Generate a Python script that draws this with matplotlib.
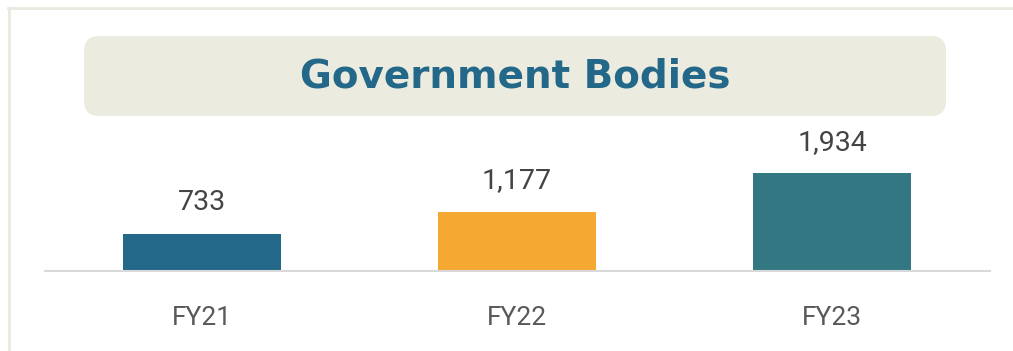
import matplotlib
matplotlib.use("Agg")
import matplotlib.pyplot as plt
from matplotlib.patches import FancyBboxPatch
from matplotlib.lines import Line2D

# Data
categories = ["FY21", "FY22", "FY23"]
values = [733, 1177, 1934]
bar_colors = ["#236789", "#F5A832", "#327782"]
title = "Government Bodies"

W, H = 1013, 351
fig = plt.figure(figsize=(W / 100, H / 100), dpi=100)
fig.patch.set_facecolor("white")

# Outer frame lines (top and left)
frame_color = "#E9E9DF"
fig.add_artist(Line2D([8 / W, 1.0], [1 - 7.5 / H, 1 - 7.5 / H], color=frame_color, lw=2.0,
                      transform=fig.transFigure))
fig.add_artist(Line2D([8.5 / W, 8.5 / W], [0, 1 - 7.5 / H], color=frame_color, lw=2.0,
                      transform=fig.transFigure))

# Title banner
bx0, bx1, by0, by1 = 84, 946, 36, 116
banner = FancyBboxPatch((bx0 / W, 1 - by1 / H), (bx1 - bx0) / W, (by1 - by0) / H,
                        boxstyle="round,pad=0,rounding_size=0.015",
                        transform=fig.transFigure, facecolor="#EBEBE0", edgecolor="none",
                        mutation_aspect=W / H)
fig.add_artist(banner)
fig.text(515 / W, 1 - 76 / H, title, ha="center", va="center", fontsize=28,
         fontweight="bold", family="DejaVu Sans", color="#236789")

# Bar axes: baseline at y=271 px, x from 44.5 to 989.5 px
ax_left, ax_right = 44.5, 989.5
ax_bottom = H - 271
ax_top = H - 120
ax = fig.add_axes([ax_left / W, ax_bottom / H, (ax_right - ax_left) / W, (ax_top - ax_bottom) / H])
ax.set_facecolor("none")
px_per_unit = 0.0505
ax.set_ylim(0, (ax_top - ax_bottom) / px_per_unit)
ax.set_xlim(-0.5, 2.5)

x = range(len(categories))
bars = ax.bar(x, values, width=0.5, color=bar_colors, zorder=2)
for xi, v in zip(x, values):
    ax.annotate(f"{v:,}", (xi, v), xytext=(0, 31), textcoords="offset pixels",
                ha="center", va="center", fontsize=20.5, family="Roboto",
                color="#444444", annotation_clip=False)

for s in ["top", "right", "left"]:
    ax.spines[s].set_visible(False)
ax.spines["bottom"].set_color("#D9D9D9")
ax.spines["bottom"].set_linewidth(1.5)
ax.set_yticks([])
ax.set_xticks(list(x))
ax.set_xticklabels(categories, fontsize=19, family="Roboto", color="#595959")
ax.tick_params(axis="x", length=0, pad=25)

fig.savefig("out.png", dpi=100)
